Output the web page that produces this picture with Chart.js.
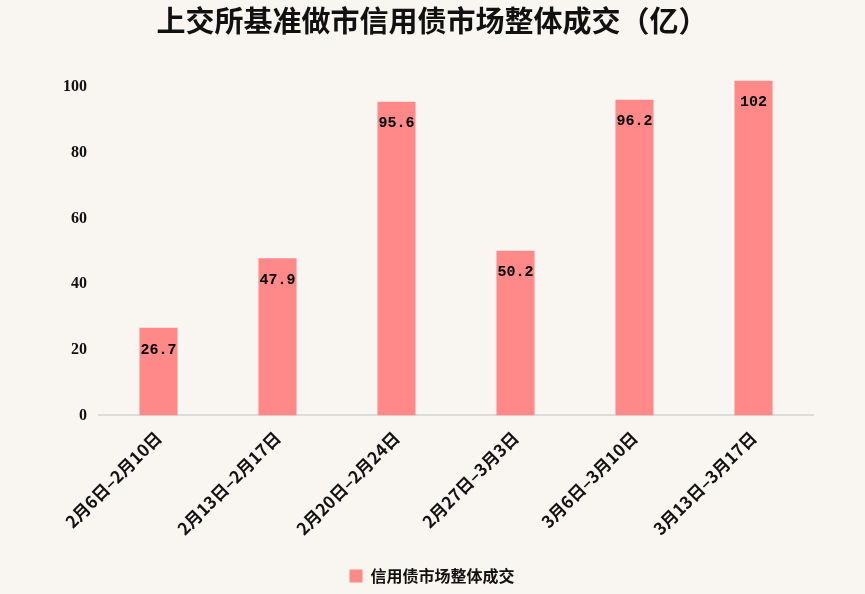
<!DOCTYPE html>
<html><head><meta charset="utf-8">
<script src="https://cdn.jsdelivr.net/npm/chart.js@4"></script>
<style>html,body{margin:0;padding:0;background:#F9F5F1;}#w{width:865px;height:594px;}</style>
</head><body><div id="w"><canvas id="c"></canvas></div>
<script>
const categories = ["2月6日–2月10日","2月13日–2月17日","2月20日–2月24日","2月27日–3月3日","3月6日–3月10日","3月13日–3月17日"];
const values = [26.7, 47.9, 95.6, 50.2, 96.2, 102];
const valueLabels = ["26.7","47.9","95.6","50.2","96.2","102"];
const seriesName = "信用债市场整体成交";
const titleText = "上交所基准做市信用债市场整体成交（亿）";

const labelPlugin = {
  id: 'vlabels',
  afterDatasetsDraw(chart) {
    const ctx = chart.ctx;
    const meta = chart.getDatasetMeta(0);
    ctx.save();
    ctx.font = 'bold 15px "Liberation Mono", monospace';
    ctx.fillStyle = '#000';
    ctx.textAlign = 'center';
    ctx.textBaseline = 'middle';
    meta.data.forEach((bar, i) => {
      ctx.fillText(valueLabels[i], bar.x, bar.y + 22);
    });
    ctx.restore();
  }
};

new Chart(document.getElementById('c'), {
  type: 'bar',
  data: {
    labels: categories,
    datasets: [{
      label: seriesName,
      data: values,
      backgroundColor: 'rgb(255,137,137)',
      barPercentage: 0.64,
      categoryPercentage: 0.5
    }]
  },
  options: {
    responsive: true,
    maintainAspectRatio: false,
    animation: false,
    layout: { padding: { left: 51, right: 52, top: 0, bottom: 0 } },
    plugins: {
      title: {
        display: true, text: titleText, color: '#111',
        font: { family: '"Noto Sans CJK SC"', size: 29, weight: 'bold' },
        padding: { top: 4, bottom: 32 }
      },
      legend: {
        position: 'bottom',
        labels: {
          color: '#111', boxWidth: 13, boxHeight: 13, padding: 17,
          font: { family: '"Noto Sans CJK SC"', size: 16, weight: 'bold' }
        }
      },
      tooltip: { enabled: false }
    },
    scales: {
      x: {
        grid: { display: false, drawTicks: false },
        border: { color: '#dcdcdc', width: 2 },
        ticks: {
          color: '#111', maxRotation: 45, minRotation: 45, padding: 12,
          font: { family: '"Noto Sans CJK SC"', size: 17, weight: 'bold' }
        }
      },
      y: {
        min: 0, max: 105,
        grid: { display: false, drawTicks: false },
        border: { display: false },
        afterBuildTicks(axis) {
          axis.ticks = [0,20,40,60,80,100].map(v => ({ value: v }));
        },
        ticks: {
          color: '#111', padding: 12,
          font: { family: '"Liberation Serif"', size: 16, weight: 'bold' }
        }
      }
    }
  },
  plugins: [labelPlugin]
});
</script>
</body></html>
